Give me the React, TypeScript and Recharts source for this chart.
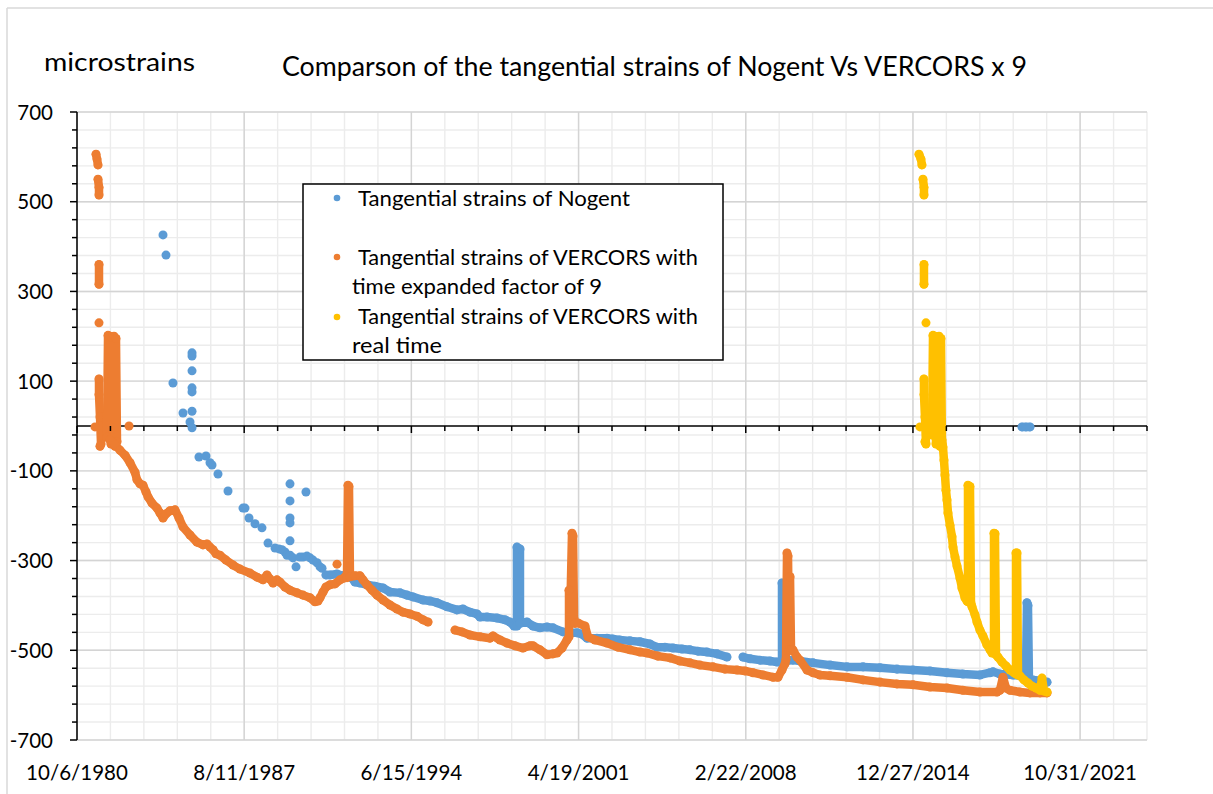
import { ScatterChart, Scatter, XAxis, YAxis, ZAxis, CartesianGrid } from 'recharts'

// Excel date serials on x, microstrains on y
const xMajorTicks = [29500, 32000, 34500, 37000, 39500, 42000, 44500]
const xTickLabels = ['10/6/1980', '8/11/1987', '6/15/1994', '4/19/2001', '2/22/2008', '12/27/2014', '10/31/2021']
const yMajorTicks = [-700, -500, -300, -100, 100, 300, 500, 700]
const yTickLabels = ['-700', '-500', '-300', '-100', '100', '300', '500', '700']

const X_MIN = 29500
const X_MAX = 45500
const Y_MIN = -700
const Y_MAX = 700

// Tangential strains of Nogent
const nogentDots = [
  [30786, 426], [30831, 381], [30935, 96], [31085, 29], [31220, 163], [31220, 156], [31220, 123],
  [31220, 85], [31220, 76], [31220, 33], [31190, 9], [31220, -4], [31324, -69], [31429, -67],
  [31489, -82], [31519, -87], [31608, -107], [31758, -145], [31982, -183], [32012, -183],
  [32072, -205], [32162, -218], [32266, -227], [32356, -261], [32461, -272], [32520, -274],
  [32565, -276], [32610, -281], [32640, -288], [32685, -288], [32730, -294], [32775, -314],
  [32834, -292], [32879, -292], [32939, -290], [32984, -294], [33029, -299], [33089, -305],
  [33134, -314], [33164, -317], [32685, -129], [32685, -167], [32685, -205], [32685, -216],
  [32685, -256], [32924, -147],
]
const nogentMain = [
  [33223, -332], [33283, -332], [33388, -330], [33477, -334], [33537, -332], [33612, -339],
  [33657, -348], [33732, -350], [33836, -354], [33956, -357], [34076, -361], [34180, -370],
  [34330, -372], [34434, -377], [34524, -381], [34674, -388], [34779, -390], [34883, -394],
  [35033, -403], [35182, -410], [35272, -408], [35377, -415], [35481, -419], [35526, -426],
  [35631, -426], [35780, -428], [35900, -432], [35975, -437], [36035, -446], [36079, -446],
  [36079, -270], [36124, -274], [36124, -440], [36229, -437], [36318, -446], [36423, -450],
  [36528, -448], [36618, -450], [36767, -459], [36872, -461], [36977, -461], [37051, -464],
  [37126, -473], [37275, -473], [37425, -473], [37514, -475], [37619, -477], [37769, -479],
  [37918, -481], [38068, -486], [38172, -493], [38292, -493], [38412, -495], [38546, -497],
  [38666, -499], [38785, -502], [38920, -504], [39070, -508], [39219, -515],
]
const nogentLate = [
  [39459, -515], [39564, -519], [39713, -522], [39862, -524], [39967, -526], [40012, -526],
  [40042, -526], [40042, -350], [40057, -355], [40072, -520], [40147, -522], [40206, -522],
  [40311, -524], [40506, -528], [40760, -533], [41014, -537], [41254, -537], [41508, -539],
  [41762, -542], [42001, -544], [42255, -546], [42509, -550], [42748, -553], [43002, -555],
  [43152, -550], [43197, -548], [43301, -553], [43496, -555], [43631, -557], [43690, -560],
  [43705, -394], [43720, -400], [43735, -566], [43795, -566], [43900, -568], [44005, -571],
]
const nogentZero = [[43631, -2], [43690, -2], [43750, -2]]

// Tangential strains of VERCORS, time expanded by 9
const vercors9Bursts = [
  [[29784, 606], [29799, 595], [29814, 582]],
  [[29814, 550], [29829, 532], [29829, 515]],
  [[29829, 360], [29829, 316]],
  [[29829, 105], [29829, 70], [29844, 20], [29859, -40], [29844, -45]],
  [[29949, -25], [29964, 202], [29994, 200], [30008, -40], [30023, 198], [30053, 200], [30068, -45], [30083, 195], [30098, -35]],
]
const vercors9Dots = [[29829, 230], [29769, -2], [30278, 0], [33388, -308]]
const vercors9Early = [
  [29993, -31], [30068, -42], [30143, -54], [30218, -65], [30293, -82], [30367, -103],
  [30397, -120], [30442, -129], [30487, -132], [30532, -147], [30562, -158], [30622, -172],
  [30696, -183], [30741, -194], [30786, -205], [30831, -196], [30891, -189], [30965, -187],
  [31025, -205], [31085, -225], [31190, -243], [31294, -259], [31384, -265], [31444, -263],
  [31489, -270], [31534, -276], [31579, -285], [31638, -288], [31728, -299], [31833, -310],
  [31937, -319], [32087, -328], [32192, -337], [32281, -343], [32341, -332], [32386, -341],
  [32431, -350], [32490, -343], [32535, -348], [32610, -359], [32685, -366], [32790, -372],
  [32879, -377], [32984, -383], [33059, -392], [33104, -390], [33134, -383], [33179, -370],
  [33223, -359], [33283, -354], [33358, -352], [33433, -343], [33492, -339], [33522, -334],
  [33537, -338], [33552, -132], [33567, -135], [33582, -336], [33657, -334], [33732, -334],
  [33777, -343], [33836, -354], [33911, -366], [33986, -377], [34076, -388], [34180, -399],
  [34285, -408], [34375, -415], [34479, -419], [34584, -424], [34674, -432], [34749, -437],
]
const vercors9Late = [
  [35152, -455], [35257, -459], [35377, -466], [35526, -470], [35676, -473], [35721, -468],
  [35825, -477], [35930, -484], [36050, -490], [36169, -495], [36274, -490], [36318, -490],
  [36423, -499], [36528, -510], [36618, -508], [36678, -506], [36753, -495], [36827, -477],
  [36857, -470], [36857, -366], [36872, -440], [36902, -239], [36917, -245], [36932, -430],
  [36947, -440], [36991, -439], [37096, -446], [37141, -470], [37245, -477], [37425, -484],
  [37589, -493], [37769, -499], [37918, -504], [38023, -506], [38187, -513], [38367, -517],
  [38516, -524], [38666, -528], [38815, -533], [39010, -537], [39189, -542], [39369, -544],
  [39489, -546], [39608, -550], [39758, -555], [39907, -560], [39982, -560], [40042, -544],
  [40087, -530], [40102, -520], [40117, -283], [40132, -290], [40147, -500], [40162, -336],
  [40177, -500], [40206, -499], [40266, -515], [40311, -522], [40416, -544], [40506, -550],
  [40610, -555], [40760, -557], [41014, -560], [41254, -566], [41508, -571], [41762, -575],
  [42001, -577], [42255, -582], [42509, -584], [42748, -589], [43002, -593], [43256, -593],
  [43301, -589], [43346, -560], [43391, -584], [43451, -589], [43600, -593], [43750, -595],
  [43900, -595], [44005, -595],
]

// Tangential strains of VERCORS, real time
const vercorsBursts = [
  [[42090, 606], [42120, 595], [42135, 582]],
  [[42150, 550], [42165, 532], [42165, 515]],
  [[42165, 360], [42165, 316]],
  [[42165, 105], [42165, 70], [42180, 20], [42195, -40], [42180, -35]],
  [[42285, -20], [42300, 202], [42330, 200], [42345, -40], [42360, 198], [42390, 200], [42404, -45], [42419, 195], [42434, -40]],
]
const vercorsDots = [[42195, 230], [42105, -2]]
const vercorsMain = [
  [42434, -31], [42449, -47], [42464, -76], [42479, -109], [42494, -143], [42509, -165],
  [42524, -194], [42554, -221], [42584, -247], [42599, -270], [42629, -292], [42659, -312],
  [42703, -339], [42733, -361], [42778, -383], [42808, -390], [42823, -392], [42823, -132],
  [42853, -135], [42868, -395], [42883, -403], [42928, -421], [42958, -437], [43002, -455],
  [43047, -468], [43107, -488], [43152, -499], [43182, -506], [43212, -506], [43212, -239],
  [43227, -240], [43242, -510], [43271, -515], [43331, -526], [43391, -535], [43451, -544],
  [43511, -550], [43541, -553], [43541, -283], [43556, -283], [43571, -555], [43601, -557],
  [43660, -566], [43720, -573], [43780, -580], [43840, -584], [43900, -589], [43930, -562],
  [43960, -591], [44005, -593],
]

const BLUE = '#5B9BD5'
const ORANGE = '#ED7D31'
const YELLOW = '#FFC000'

const PLOT_LEFT = 77
const PLOT_TOP = 112
const PLOT_RIGHT = 1147
const PLOT_BOTTOM = 740
const ZERO_Y = PLOT_TOP + ((Y_MAX - 0) / (Y_MAX - Y_MIN)) * (PLOT_BOTTOM - PLOT_TOP)
const FONT = 'Lato, "Open Sans", sans-serif'

const xMinorTicks: number[] = []
for (let v = X_MIN; v <= X_MAX; v += 500) xMinorTicks.push(v)
const yMinorTicks: number[] = []
for (let v = Y_MIN; v <= Y_MAX; v += 40) yMinorTicks.push(v)

// major grid lines in pixel space (minor ones follow the axis ticks)
const majorXPx = xMajorTicks.map((v) => PLOT_LEFT + ((v - X_MIN) / (X_MAX - X_MIN)) * (PLOT_RIGHT - PLOT_LEFT))
const majorYPx = yMajorTicks.map((v) => PLOT_TOP + ((Y_MAX - v) / (Y_MAX - Y_MIN)) * (PLOT_BOTTOM - PLOT_TOP))

const pts = (arr: number[][]) => arr.map(([x, y]) => ({ x, y }))

// eslint-disable-next-line @typescript-eslint/no-explicit-any
const XTick = ({ x, payload }: any) => {
  const idx = xMajorTicks.indexOf(payload.value)
  const major = idx >= 0
  return (
    <g>
      <line x1={x} x2={x} y1={ZERO_Y} y2={ZERO_Y + (major ? 7 : 5)} stroke="#000" strokeWidth={1.5} />
      {major && (
        <text x={x} y={PLOT_BOTTOM + 40} textAnchor="middle" fontSize={20.5} fontFamily={FONT} fill="#000">
          {xTickLabels[idx]}
        </text>
      )}
    </g>
  )
}

// eslint-disable-next-line @typescript-eslint/no-explicit-any
const YTick = ({ y, payload }: any) => {
  const idx = yMajorTicks.indexOf(payload.value)
  const major = idx >= 0
  return (
    <g>
      <line x1={PLOT_LEFT - (major ? 7 : 5)} x2={PLOT_LEFT} y1={y} y2={y} stroke="#000" strokeWidth={1.5} />
      {major && (
        <text x={53} y={y + 7.5} textAnchor="end" fontSize={20.5} fontFamily={FONT} fill="#000">
          {yTickLabels[idx]}
        </text>
      )}
    </g>
  )
}

const lineStyle = (c: string) => ({ stroke: c, strokeWidth: 8.5, strokeLinejoin: 'round', strokeLinecap: 'round' })

export default function App() {
  return (
    <div style={{ position: 'absolute', left: 0, top: 0, width: 1213, height: 794, background: '#fff', fontFamily: FONT }}>
      <ScatterChart width={1213} height={794} margin={{ top: PLOT_TOP, right: 1213 - PLOT_RIGHT, bottom: 14, left: 17 }}>
        <CartesianGrid stroke="#ececec" strokeWidth={1.4} />
        <CartesianGrid stroke="#d4d4d4" strokeWidth={1.4} verticalPoints={majorXPx} horizontalPoints={majorYPx} />
        <CartesianGrid stroke="#000" strokeWidth={1.5} vertical={false} horizontalPoints={[ZERO_Y]} />
        <XAxis
          type="number" dataKey="x" domain={[X_MIN, X_MAX]} ticks={xMinorTicks} interval={0}
          allowDataOverflow height={40} axisLine={false} tickLine={false} tick={<XTick />}
        />
        <YAxis
          type="number" dataKey="y" domain={[Y_MIN, Y_MAX]} ticks={yMinorTicks} interval={0}
          allowDataOverflow width={60} axisLine={{ stroke: '#000', strokeWidth: 1.5 }} tickLine={false} tick={<YTick />}
        />
        <ZAxis range={[52, 52]} />
        <Scatter data={pts(nogentDots)} fill={BLUE} isAnimationActive={false} />
        <Scatter data={pts(nogentMain)} fill={BLUE} line={lineStyle(BLUE)} isAnimationActive={false} />
        <Scatter data={pts(nogentLate)} fill={BLUE} line={lineStyle(BLUE)} isAnimationActive={false} />
        <Scatter data={pts(nogentZero)} fill={BLUE} line={lineStyle(BLUE)} isAnimationActive={false} />
        {vercors9Bursts.map((b, i) => (
          <Scatter key={'ob' + i} data={pts(b)} fill={ORANGE} line={lineStyle(ORANGE)} isAnimationActive={false} />
        ))}
        <Scatter data={pts(vercors9Dots)} fill={ORANGE} isAnimationActive={false} />
        <Scatter data={pts(vercors9Early)} fill={ORANGE} line={lineStyle(ORANGE)} isAnimationActive={false} />
        <Scatter data={pts(vercors9Late)} fill={ORANGE} line={lineStyle(ORANGE)} isAnimationActive={false} />
        {vercorsBursts.map((b, i) => (
          <Scatter key={'yb' + i} data={pts(b)} fill={YELLOW} line={lineStyle(YELLOW)} isAnimationActive={false} />
        ))}
        <Scatter data={pts(vercorsDots)} fill={YELLOW} isAnimationActive={false} />
        <Scatter data={pts(vercorsMain)} fill={YELLOW} line={lineStyle(YELLOW)} isAnimationActive={false} />
      </ScatterChart>

      <svg width={1213} height={794} style={{ position: 'absolute', left: 0, top: 0, pointerEvents: 'none' }}>
        <line x1={7} y1={8} x2={1213} y2={8} stroke="#d9d9d9" strokeWidth={1.5} />
        <line x1={7} y1={8} x2={7} y2={794} stroke="#d9d9d9" strokeWidth={1.5} />
        <text x={44} y={71} fontSize={25} fontFamily={FONT} textLength={151} lengthAdjust="spacingAndGlyphs">microstrains</text>
        <text x={282} y={76} fontSize={26} fontFamily={FONT} textLength={745} lengthAdjust="spacingAndGlyphs">
          Comparson of the tangential strains of Nogent Vs VERCORS x 9
        </text>
        <rect x={303} y={184} width={420} height={176} fill="#fff" stroke="#000" strokeWidth={1.5} />
        <circle cx={337} cy={198} r={3.3} fill={BLUE} />
        <circle cx={337} cy={257} r={3.3} fill={ORANGE} />
        <circle cx={337} cy={317} r={3.3} fill={YELLOW} />
        <g fontSize={21} fontFamily={FONT} fill="#000">
          <text x={358} y={206} textLength={272} lengthAdjust="spacingAndGlyphs">Tangential strains of Nogent</text>
          <text x={358} y={265} textLength={340} lengthAdjust="spacingAndGlyphs">Tangential strains of VERCORS with</text>
          <text x={352} y={294} textLength={250} lengthAdjust="spacingAndGlyphs">time expanded factor of 9</text>
          <text x={358} y={324} textLength={340} lengthAdjust="spacingAndGlyphs">Tangential strains of VERCORS with</text>
          <text x={352} y={353} textLength={90} lengthAdjust="spacingAndGlyphs">real  time</text>
        </g>
      </svg>
    </div>
  )
}
